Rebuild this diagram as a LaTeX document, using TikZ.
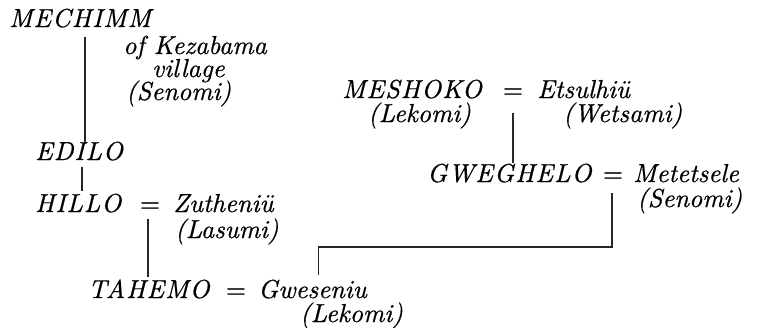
\documentclass[tikz,border=0pt]{standalone}
\usepackage{fontspec}
\setmainfont{lmroman10-regular.otf}[ItalicFont=lmroman10-italic.otf, FakeBold=0.6]
\newfontfamily\spacedit{lmroman10-italic.otf}[LetterSpace=4, FakeBold=0.6]
\tikzset{
  nm/.style={anchor=base west, inner sep=0pt, font=\fontsize{26}{30}\selectfont\spacedit},
  sp/.style={anchor=base west, inner sep=0pt, text height=15pt, text depth=4pt, font=\fontsize{26}{30}\selectfont\itshape},
  eqs/.style={anchor=base, inner sep=0pt, font=\fontsize{26}{30}\selectfont},
  ln/.style={line width=1.3pt, black!85}
}
\begin{document}
\begin{tikzpicture}[x=1pt, y=-1pt]
\useasboundingbox (0,0) rectangle (760,327);
% left lineage
\node[nm] (mech) at (9,27) {MECHIMM};
\node[sp] (kez) at (123,54) {of Kezabama};
\node[sp] (vil) at (152,77) {village};
\node[sp] (sen1) at (126,100) {(Senomi)};
\node[nm] (edilo) at (35,160) {EDILO};
\node[nm] (hillo) at (35,212) {HILLO};
\node[eqs] (eq1) at (150,212) {=};
\node[sp] (zut) at (173,212) {Zutheniü};
\node[sp] (las) at (175,238) {(Lasumi)};
\node[nm] (tah) at (88,298) {TAHEMO};
\node[eqs] (eq2) at (236,298) {=};
\node[sp] (gwe) at (258,298) {Gweseniu};
\node[sp] (lek1) at (300,322) {(Lekomi)};
% right lineage
\node[nm] (mesh) at (342,98) {MESHOKO};
\node[eqs] (eq3) at (513,98) {=};
\node[sp] (ets) at (537,98) {Etsulhiü};
\node[sp] (lek2) at (368,122) {(Lekomi)};
\node[sp] (wet) at (563,122) {(Wetsami)};
\node[nm] (gwg) at (427,182) {GWEGHELO};
\node[eqs] (eq4) at (613,182) {=};
\node[sp] (met) at (633,182) {Metetsele};
\node[sp] (sen2) at (637,207) {(Senomi)};
\coordinate (bar) at (0,247);
% connectors
\draw[ln] ([xshift=5pt,yshift=-9pt]mech.south) -- ([xshift=5pt,yshift=-2pt]mech.south |- edilo.north);
\draw[ln] ([xshift=3pt,yshift=-6pt]edilo.south) -- ([xshift=3pt,yshift=2pt]edilo.south |- hillo.north);
\draw[ln] ([xshift=-2pt,yshift=-7pt]eq1.south) -- ([xshift=-2pt,yshift=2pt]eq1.south |- tah.north);
\draw[ln] ([yshift=-15pt]eq3.south) -- ([yshift=0pt]eq3.south |- gwg.north);
\draw[ln] ([xshift=-1pt,yshift=-11pt]eq4.south) -- ([xshift=-1pt]eq4.south |- bar) -| ([xshift=6pt,yshift=8pt]gwe.north);
\end{tikzpicture}
\end{document}
